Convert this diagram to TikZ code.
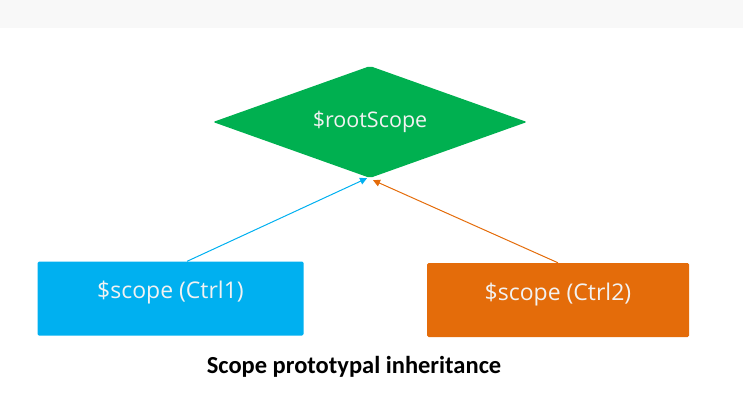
\documentclass[tikz,border=0pt]{standalone}
\usepackage{fontspec}
\setmainfont{Open Sans}
\newfontfamily\capfont{Carlito}
\usetikzlibrary{arrows.meta,shapes.geometric,calc}
\definecolor{Gc}{HTML}{00B050}
\definecolor{Bc}{HTML}{00B0F0}
\definecolor{Oc}{HTML}{E46C0A}
\definecolor{band}{HTML}{F8F8F8}
\definecolor{soft}{HTML}{F2F2F2}
\tikzset{
  rootnode/.style={diamond, fill=Gc, text=soft, inner sep=0pt, aspect=2.8,
    minimum width=314pt, minimum height=112pt, rounded corners=2pt, font=\fontsize{21.5}{24}\selectfont},
  ctrlbox/.style={rectangle, text=soft, inner sep=0pt, minimum width=266pt, minimum height=74pt,
    rounded corners=1.5pt, text height=12pt, text depth=12pt, font=\fontsize{23}{26}\selectfont},
  link/.style={-{Triangle[length=7pt,width=7pt]}, line width=1pt},
}
\begin{document}
\begin{tikzpicture}[x=1pt,y=-1pt]
  \useasboundingbox (0,0) rectangle (743,401);
  \fill[band] (0,0) rectangle (743,28);
  \node[rootnode] (root) at (370,122) {\$rootScope};
  \node[ctrlbox, fill=Bc] (ctrlone) at (170.5,298.5) {\$scope (Ctrl1)};
  \node[ctrlbox, fill=Oc, minimum width=262pt] (ctrltwo) at (558,300) {\$scope (Ctrl2)};
  \draw[link, Bc] (ctrlone.66) -- ($(root.south)+(-3,0)$);
  \draw[link, Oc] (ctrltwo.north) -- ($(root.south)+(3,2)$);
  \node[font=\capfont\bfseries\fontsize{24.5}{28}\selectfont] (caption) at (354,367) {Scope prototypal inheritance};
\end{tikzpicture}
\end{document}
